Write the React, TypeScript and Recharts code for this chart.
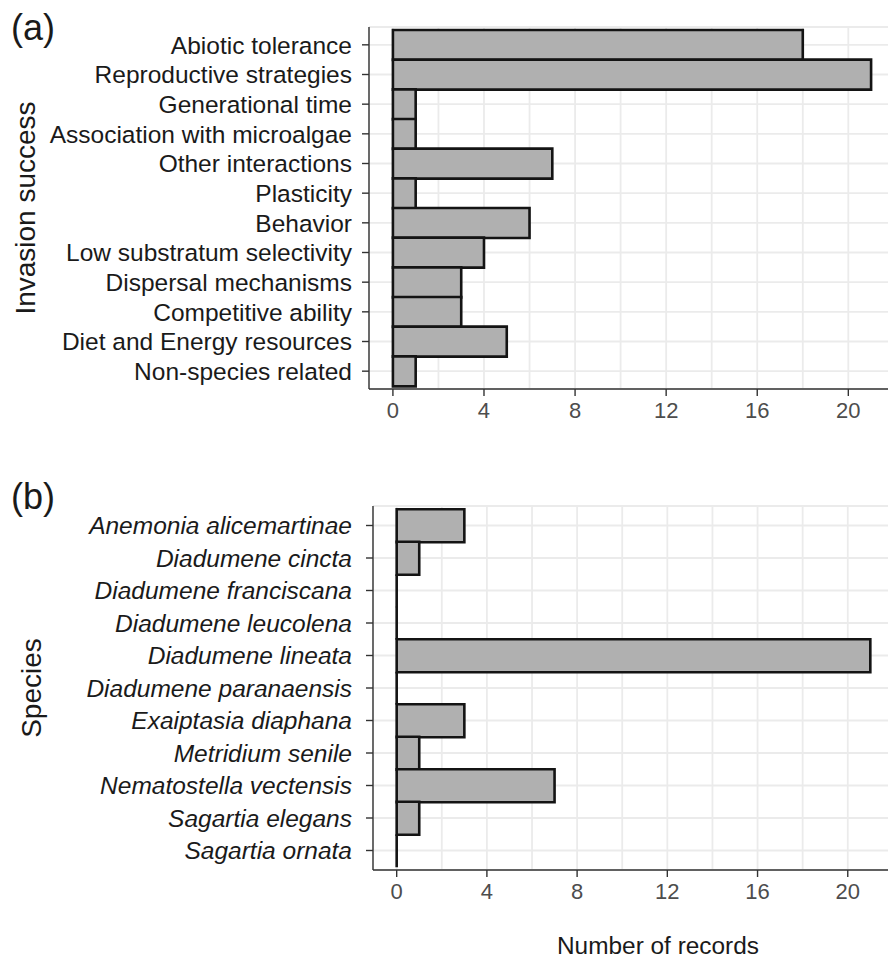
import React from 'react';
import { BarChart, Bar, XAxis, YAxis, CartesianGrid } from 'recharts';

// Panel (a): traits linked to invasion success
const traitCategories = [
  'Abiotic tolerance',
  'Reproductive strategies',
  'Generational time',
  'Association with microalgae',
  'Other interactions',
  'Plasticity',
  'Behavior',
  'Low substratum selectivity',
  'Dispersal mechanisms',
  'Competitive ability',
  'Diet and Energy resources',
  'Non-species related ',
];
const traitRecords = [18, 21, 1, 1, 7, 1, 6, 4, 3, 3, 5, 1];

// Panel (b): records per species
const speciesNames = [
  'Anemonia alicemartinae',
  'Diadumene cincta',
  'Diadumene franciscana',
  'Diadumene leucolena',
  'Diadumene lineata',
  'Diadumene paranaensis',
  'Exaiptasia diaphana',
  'Metridium senile',
  'Nematostella vectensis',
  'Sagartia elegans',
  'Sagartia ornata',
];
const speciesRecords = [3, 1, 0, 0, 21, 0, 3, 1, 7, 1, 0];

const countTicks = [0, 4, 8, 12, 16, 20];
const gridTicks = [0, 2, 4, 6, 8, 10, 12, 14, 16, 18, 20, 22];
const countDomain: [number, number] = [-1.05, 22.05];

const FONT = '"Liberation Sans", Arial, Helvetica, sans-serif';
const BORDER = '#333333';
const GRID = '#ebebeb';

// Bar outline drawn as a path so that zero-count bars still show their edge
const OutlinedBar = (props: any) => {
  const { x, y, width, height } = props;
  const w = Math.max(Number(width) || 0, 0);
  return (
    <path
      d={`M${x},${y}h${w}v${height}h${-w}Z`}
      fill="#b0b0b0"
      stroke="#141414"
      strokeWidth={2.6}
    />
  );
};

type PanelProps = {
  categories: string[];
  values: number[];
  italic?: boolean;
  width: number;
  height: number;
  marginTop: number;
  axisWidth: number;
  xAxisHeight: number;
  bandPad: number;
  labelGap: number;
};

function CountPanel({
  categories,
  values,
  italic,
  width,
  height,
  marginTop,
  axisWidth,
  xAxisHeight,
  bandPad,
  labelGap,
}: PanelProps) {
  const rows = categories.map((name, i) => ({ name, records: values[i] }));
  return (
    <BarChart
      width={width}
      height={height}
      data={rows}
      layout="vertical"
      barCategoryGap={0}
      barGap={0}
      margin={{ top: marginTop, right: 0, bottom: 0, left: 0 }}
    >
      <XAxis
        xAxisId="grid"
        type="number"
        domain={countDomain}
        ticks={gridTicks}
        allowDataOverflow
        hide
      />
      <XAxis
        xAxisId="top"
        orientation="top"
        type="number"
        domain={countDomain}
        allowDataOverflow
        height={0}
        tick={false}
        tickLine={false}
        axisLine={{ stroke: BORDER, strokeWidth: 1.4 }}
      />
      <CartesianGrid xAxisId="grid" stroke={GRID} strokeWidth={1.8} />
      <XAxis
        type="number"
        domain={countDomain}
        ticks={countTicks}
        interval={0}
        allowDataOverflow
        height={xAxisHeight}
        tickSize={7}
        tickMargin={6}
        axisLine={{ stroke: BORDER, strokeWidth: 1.4 }}
        tickLine={{ stroke: BORDER, strokeWidth: 1.4 }}
        tick={{ fill: '#4d4d4d', fontSize: 22, fontFamily: FONT }}
      />
      <YAxis
        type="category"
        dataKey="name"
        width={axisWidth}
        interval={0}
        tickSize={7}
        tickMargin={labelGap}
        padding={{ top: bandPad, bottom: bandPad }}
        axisLine={{ stroke: BORDER, strokeWidth: 1.4 }}
        tickLine={{ stroke: BORDER, strokeWidth: 1.4 }}
        tick={{
          fill: '#1a1a1a',
          fontSize: 24.5,
          fontFamily: FONT,
          fontStyle: italic ? 'italic' : 'normal',
        }}
      />
      <Bar dataKey="records" shape={OutlinedBar} isAnimationActive={false} />
    </BarChart>
  );
}

export default function App() {
  return (
    <div
      style={{
        position: 'absolute',
        left: 0,
        top: 0,
        width: 888,
        height: 958,
        overflow: 'hidden',
        background: '#ffffff',
        fontFamily: FONT,
      }}
    >
      <div style={{ position: 'absolute', left: 0, top: 0 }}>
        <CountPanel
          categories={traitCategories}
          values={traitRecords}
          width={895}
          height={430}
          marginTop={27}
          axisWidth={369}
          xAxisHeight={41}
          bandPad={3}
          labelGap={10}
        />
      </div>
      <div style={{ position: 'absolute', left: 0, top: 460 }}>
        <CountPanel
          categories={speciesNames}
          values={speciesRecords}
          italic
          width={894}
          height={450}
          marginTop={46}
          axisWidth={373}
          xAxisHeight={40}
          bandPad={3.25}
          labelGap={14}
        />
      </div>
      <svg
        width={888}
        height={958}
        style={{ position: 'absolute', left: 0, top: 0, pointerEvents: 'none' }}
      >
        <text x={11} y={40} fontSize={36} fontFamily={FONT} fill="#1a1a1a">
          (a)
        </text>
        <text x={11} y={509} fontSize={36} fontFamily={FONT} fill="#1a1a1a">
          (b)
        </text>
        <text
          x={35}
          y={208}
          fontSize={28}
          fontFamily={FONT}
          fill="#1a1a1a"
          textAnchor="middle"
          transform="rotate(-90 35 208)"
        >
          Invasion success
        </text>
        <text
          x={41}
          y={688}
          fontSize={28}
          fontFamily={FONT}
          fill="#1a1a1a"
          textAnchor="middle"
          transform="rotate(-90 41 688)"
        >
          Species
        </text>
        <text x={658} y={954} fontSize={24.4} fontFamily={FONT} fill="#1a1a1a" textAnchor="middle">
          Number of records
        </text>
      </svg>
    </div>
  );
}
